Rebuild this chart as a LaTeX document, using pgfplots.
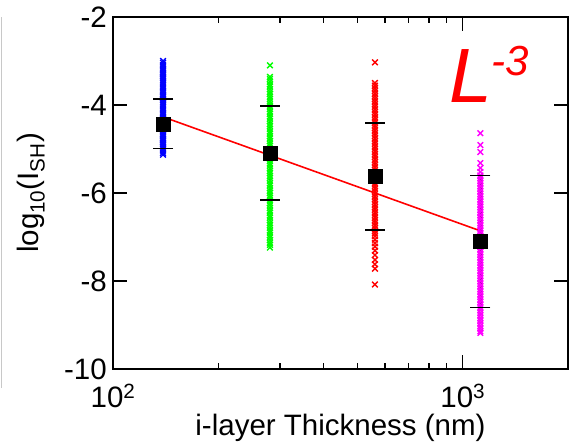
\documentclass[border=0pt]{standalone}
\usepackage{fontspec}
\setmainfont{Liberation Sans}
\usepackage{pgfplots}
\pgfplotsset{compat=1.18}
\begin{document}
\begin{tikzpicture}
\path[use as bounding box] (-113bp,-75bp) rectangle (465bp,369bp);
\draw[color={rgb,255:red,200;green,200;blue,200}, line width=1bp] (-111.5bp,-19bp) -- (-111.5bp,352bp);
\begin{axis}[
  at={(0,0)}, anchor=south west,
  scale only axis, width=455bp, height=352bp,
  xmode=log, xmin=100, xmax=2000, ymin=-10, ymax=-2,
  xtick={100,1000}, xticklabels={10\textsuperscript{2},10\textsuperscript{3}},
  minor xtick={200,300,400,500,600,700,800,900},
  ytick={-10,-8,-6,-4,-2}, yticklabels={-10,-8,-6,-4,-2},
  xtick pos=both, ytick pos=both,
  tick align=inside,
  major tick length=14bp, minor tick length=6bp,
  axis line style={line width=1.6bp},
  every tick/.style={black, line width=1.5bp},
  every minor tick/.style={black, line width=1.5bp},
  tick label style={font=\fontsize{29.5bp}{32bp}\selectfont},
  xticklabel style={anchor=base, inner sep=0pt, yshift=-38bp},
  yticklabel style={anchor=east, inner sep=0pt, xshift=-6bp},
  xlabel={i-layer Thickness (nm)},
  ylabel={log\textsubscript{10}(I\textsubscript{SH})},
  every axis x label/.style={at={(axis description cs:0.5,-0.1875)}, anchor=base, inner sep=0pt, font=\fontsize{29.5bp}{32bp}\selectfont},
  every axis y label/.style={at={(axis description cs:-0.1495,0.5)}, rotate=90, anchor=south, inner sep=0pt, font=\fontsize{29.5bp}{32bp}\selectfont},
  clip=false,
]
\addplot[only marks, mark=x, mark size=4bp, color={rgb,255:red,0;green,0;blue,255}, line width=1.4bp] coordinates {
(139,-3.00)(139,-3.04)(139,-3.09)(139,-3.13)(139,-3.18)(139,-3.22)(139,-3.27)(139,-3.31)(139,-3.36)(139,-3.40)
(139,-3.45)(139,-3.50)(139,-3.54)(139,-3.59)(139,-3.63)(139,-3.68)(139,-3.72)(139,-3.77)(139,-3.81)(139,-3.86)
(139,-3.90)(139,-3.95)(139,-4.00)(139,-4.04)(139,-4.09)(139,-4.13)(139,-4.18)(139,-4.22)(139,-4.27)(139,-4.31)
(139,-4.36)(139,-4.40)(139,-4.45)(139,-4.50)(139,-4.54)(139,-4.59)(139,-4.63)(139,-4.68)(139,-4.72)(139,-4.77)
(139,-4.81)(139,-4.86)(139,-4.90)(139,-4.95)(139,-5.00)(139,-5.04)(139,-5.09)(139,-5.13)
};
\addplot[only marks, mark=x, mark size=4bp, color={rgb,255:red,0;green,255;blue,0}, line width=1.4bp] coordinates {
(281,-3.10)(281,-3.36)(281,-3.41)(281,-3.47)(281,-3.53)(281,-3.58)(281,-3.64)(281,-3.70)(281,-3.75)(281,-3.81)
(281,-3.86)(281,-3.92)(281,-3.98)(281,-4.03)(281,-4.09)(281,-4.15)(281,-4.20)(281,-4.26)(281,-4.31)(281,-4.37)
(281,-4.43)(281,-4.48)(281,-4.54)(281,-4.60)(281,-4.65)(281,-4.71)(281,-4.76)(281,-4.82)(281,-4.88)(281,-4.93)
(281,-4.99)(281,-5.05)(281,-5.10)(281,-5.16)(281,-5.21)(281,-5.27)(281,-5.33)(281,-5.38)(281,-5.44)(281,-5.50)
(281,-5.55)(281,-5.61)(281,-5.66)(281,-5.72)(281,-5.78)(281,-5.83)(281,-5.89)(281,-5.95)(281,-6.00)(281,-6.06)
(281,-6.11)(281,-6.17)(281,-6.23)(281,-6.28)(281,-6.34)(281,-6.40)(281,-6.45)(281,-6.51)(281,-6.56)(281,-6.62)
(281,-6.68)(281,-6.73)(281,-6.79)(281,-6.85)(281,-6.90)(281,-6.96)(281,-7.01)(281,-7.07)(281,-7.13)(281,-7.18)
(281,-7.24)
};
\addplot[only marks, mark=x, mark size=4bp, color={rgb,255:red,255;green,0;blue,0}, line width=1.4bp] coordinates {
(561,-3.03)(561,-3.50)(561,-3.56)(561,-3.62)(561,-3.68)(561,-3.74)(561,-3.80)(561,-3.86)(561,-3.92)(561,-3.98)
(561,-4.04)(561,-4.10)(561,-4.16)(561,-4.22)(561,-4.28)(561,-4.34)(561,-4.40)(561,-4.46)(561,-4.52)(561,-4.58)
(561,-4.64)(561,-4.70)(561,-4.76)(561,-4.82)(561,-4.88)(561,-4.94)(561,-5.00)(561,-5.06)(561,-5.12)(561,-5.18)
(561,-5.24)(561,-5.30)(561,-5.36)(561,-5.42)(561,-5.48)(561,-5.54)(561,-5.60)(561,-5.66)(561,-5.72)(561,-5.78)
(561,-5.84)(561,-5.90)(561,-5.96)(561,-6.02)(561,-6.08)(561,-6.14)(561,-6.20)(561,-6.26)(561,-6.32)(561,-6.38)
(561,-6.44)(561,-6.50)(561,-6.56)(561,-6.62)(561,-6.68)(561,-6.74)(561,-6.80)(561,-6.86)(561,-6.92)(561,-6.98)
(561,-7.06)(561,-7.14)(561,-7.22)(561,-7.31)(561,-7.41)(561,-7.52)(561,-7.62)(561,-7.72)(561,-8.08)
};
\addplot[only marks, mark=x, mark size=4bp, color={rgb,255:red,255;green,0;blue,255}, line width=1.4bp] coordinates {
(1123,-4.64)(1123,-4.91)(1123,-5.07)(1123,-5.32)(1123,-5.43)(1123,-5.52)(1123,-5.60)(1123,-5.66)(1123,-5.72)(1123,-5.78)
(1123,-5.84)(1123,-5.90)(1123,-5.96)(1123,-6.02)(1123,-6.08)(1123,-6.14)(1123,-6.20)(1123,-6.26)(1123,-6.32)(1123,-6.38)
(1123,-6.44)(1123,-6.50)(1123,-6.56)(1123,-6.62)(1123,-6.68)(1123,-6.74)(1123,-6.80)(1123,-6.86)(1123,-6.92)(1123,-6.98)
(1123,-7.04)(1123,-7.10)(1123,-7.16)(1123,-7.22)(1123,-7.28)(1123,-7.34)(1123,-7.40)(1123,-7.46)(1123,-7.52)(1123,-7.58)
(1123,-7.64)(1123,-7.70)(1123,-7.76)(1123,-7.82)(1123,-7.88)(1123,-7.94)(1123,-8.00)(1123,-8.06)(1123,-8.12)(1123,-8.18)
(1123,-8.24)(1123,-8.30)(1123,-8.36)(1123,-8.42)(1123,-8.48)(1123,-8.54)(1123,-8.60)(1123,-8.66)(1123,-8.72)(1123,-8.78)
(1123,-8.84)(1123,-8.90)(1123,-8.96)(1123,-9.02)(1123,-9.08)(1123,-9.14)(1123,-9.18)
};
% error bars (mean +- spread)
\addplot[black, line width=2.4bp, mark=none] coordinates {(139,-3.87) (139,-4.99)};
\addplot[black, line width=2.4bp, mark=none] coordinates {(281,-4.03) (281,-6.15)};
\addplot[black, line width=2.4bp, mark=none] coordinates {(561,-4.40) (561,-6.84)};
\addplot[black, line width=2.4bp, mark=none] coordinates {(1123,-5.60) (1123,-8.60)};
\addplot[only marks, mark=-, mark size=10bp, black, mark options={line width=1.8bp}] coordinates {
(139,-3.87)(139,-4.99)(281,-4.03)(281,-6.15)(561,-4.40)(561,-6.84)(1123,-5.60)(1123,-8.60)};
\addplot[only marks, mark=square*, mark size=7bp, black] coordinates {
(139,-4.43)(281,-5.09)(561,-5.62)(1123,-7.10)};
\addplot[no marks, line width=1.6bp, color={rgb,255:red,255;green,0;blue,0}] coordinates {(139,-4.27) (1123,-6.86)};
\node[anchor=base west, inner sep=0pt, text={rgb,255:red,255;green,0;blue,0}] at (rel axis cs:0.738,0.756)
  {\fontsize{77bp}{80bp}\selectfont\itshape L\raisebox{27bp}{\fontsize{42bp}{44bp}\selectfont\itshape -3}};
\end{axis}
\end{tikzpicture}
\end{document}
